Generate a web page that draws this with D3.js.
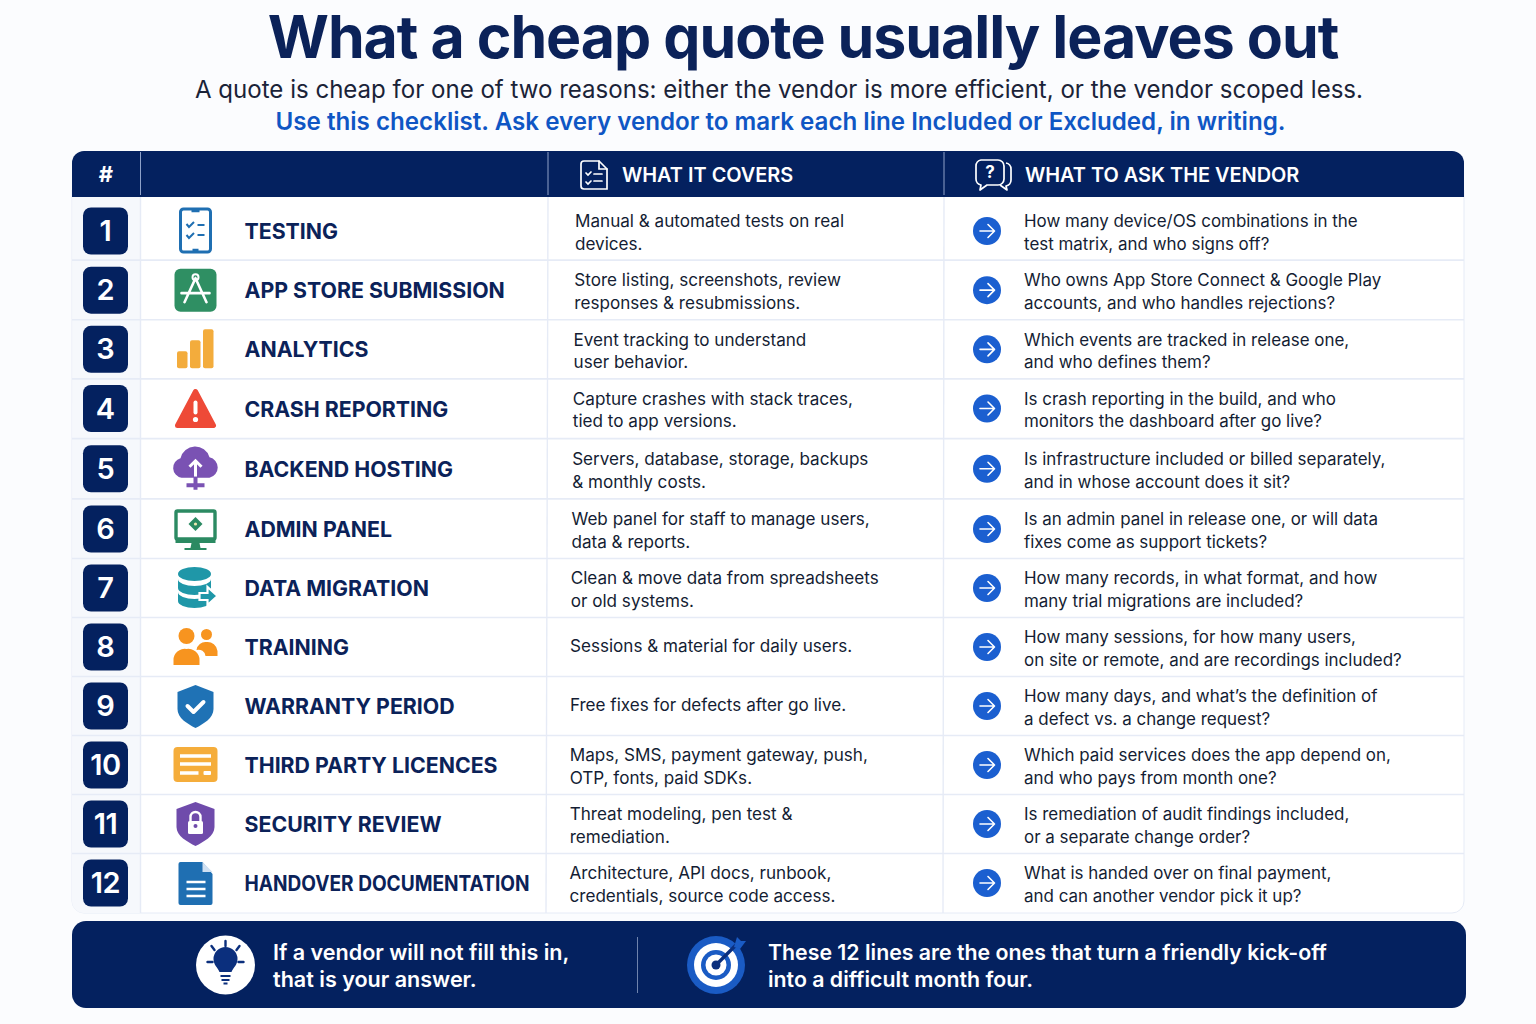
<!DOCTYPE html>
<html>
<head>
<meta charset="utf-8">
<title>What a cheap quote usually leaves out</title>
<script src="https://cdn.jsdelivr.net/npm/d3@7"></script>
<style>
  body { margin: 0; background: #fbfcfe; }
  svg { display: block; }
  text { font-family: Inter, "Noto Sans", sans-serif; }
</style>
</head>
<body>
<div id="chart"></div>
<script>
const rowNumbers = [1, 2, 3, 4, 5, 6, 7, 8, 9, 10, 11, 12];
const rowLabels = ["TESTING", "APP STORE SUBMISSION", "ANALYTICS", "CRASH REPORTING", "BACKEND HOSTING", "ADMIN PANEL",
    "DATA MIGRATION", "TRAINING", "WARRANTY PERIOD", "THIRD PARTY LICENCES", "SECURITY REVIEW", "HANDOVER DOCUMENTATION"];
const rowIcons = ["phone", "store", "bars", "warning", "cloud", "monitor", "database", "people", "shieldCheck", "card", "shieldLock", "doc"];
const coversText = [
    ["Manual & automated tests on real", "devices."],
    ["Store listing, screenshots, review", "responses & resubmissions."],
    ["Event tracking to understand", "user behavior."],
    ["Capture crashes with stack traces,", "tied to app versions."],
    ["Servers, database, storage, backups", "& monthly costs."],
    ["Web panel for staff to manage users,", "data & reports."],
    ["Clean & move data from spreadsheets", "or old systems."],
    ["Sessions & material for daily users."],
    ["Free fixes for defects after go live."],
    ["Maps, SMS, payment gateway, push,", "OTP, fonts, paid SDKs."],
    ["Threat modeling, pen test &", "remediation."],
    ["Architecture, API docs, runbook,", "credentials, source code access."]
];
const askText = [
    ["How many device/OS combinations in the", "test matrix, and who signs off?"],
    ["Who owns App Store Connect & Google Play", "accounts, and who handles rejections?"],
    ["Which events are tracked in release one,", "and who defines them?"],
    ["Is crash reporting in the build, and who", "monitors the dashboard after go live?"],
    ["Is infrastructure included or billed separately,", "and in whose account does it sit?"],
    ["Is an admin panel in release one, or will data", "fixes come as support tickets?"],
    ["How many records, in what format, and how", "many trial migrations are included?"],
    ["How many sessions, for how many users,", "on site or remote, and are recordings included?"],
    ["How many days, and what\u2019s the definition of", "a defect vs. a change request?"],
    ["Which paid services does the app depend on,", "and who pays from month one?"],
    ["Is remediation of audit findings included,", "or a separate change order?"],
    ["What is handed over on final payment,", "and can another vendor pick it up?"]
];
const headerLabels = ["WHAT IT COVERS", "WHAT TO ASK THE VENDOR"];
const titleText = "What a cheap quote usually leaves out";
const subtitleText = "A quote is cheap for one of two reasons: either the vendor is more efficient, or the vendor scoped less.";
const calloutText = "Use this checklist. Ask every vendor to mark each line Included or Excluded, in writing.";
const footerLeft = ["If a vendor will not fill this in,", "that is your answer."];
const footerRight = ["These 12 lines are the ones that turn a friendly kick-off", "into a difficult month four."];

const navy = "#04215f", ink = "#0b2259", body = "#141d33", rule = "#e6ebf6";
const blue = "#1b5fd0";

const svg = d3.select("#chart").append("svg").attr("width", 1536).attr("height", 1024);
svg.append("rect").attr("width", 1536).attr("height", 1024).attr("fill", "#fbfcfe");

// rows are not quite even in the reference and drift left going down, hence the breakpoints
const rowY = d3.scaleLinear().domain([1, 4, 6, 8, 12]).range([231, 408.5, 529, 647, 883]);
const coversX = d3.scaleLinear().domain([1, 8, 12]).range([575, 570, 569.5]);
const askX = d3.scaleLinear().domain([1, 12]).range([1024, 1024]);
const lineStep = 22.5;

// ---- titles
svg.append("text").attr("x", 803).attr("y", 58).attr("text-anchor", "middle")
    .attr("font-size", 59).attr("font-weight", 700).attr("fill", ink).style("letter-spacing", "-1px").text(titleText);
svg.append("text").attr("x", 779).attr("y", 98).attr("text-anchor", "middle")
    .attr("font-size", 24.06).attr("font-weight", 400).attr("fill", "#1a2338").text(subtitleText);
svg.append("text").attr("x", 780.5).attr("y", 130).attr("text-anchor", "middle")
    .attr("font-size", 24.17).attr("font-weight", 600).attr("fill", "#0f56c4").text(calloutText);

// ---- table body
svg.append("path")
    .attr("d", "M72,190H1464V901a12,12 0 0 1 -12,12H84a12,12 0 0 1 -12,-12Z")
    .attr("fill", "#ffffff").attr("stroke", rule).attr("stroke-width", 1);
svg.append("path")
    .attr("d", "M72.5,190H140.5V913H84a12,12 0 0 1 -12,-12Z").attr("fill", "#f6f8fc");

const rowSep = rowNumbers.slice(0, -1).map(n => (rowY(n) + rowY(n + 1)) / 2 + (n === 1 ? -0.5 : 0));
svg.selectAll(".row-rule").data(rowSep).enter().append("line")
    .attr("class", "row-rule")
    .attr("x1", 72).attr("x2", 1464).attr("y1", d => d).attr("y2", d => d)
    .attr("stroke", rule).attr("stroke-width", 1.6);

[[140.5, 140.5], [548, 546], [944, 943]].forEach(([top, bottom]) => {
    svg.append("line").attr("x1", top).attr("x2", bottom).attr("y1", 197).attr("y2", 913)
        .attr("stroke", rule).attr("stroke-width", 1.4);
});

// ---- header band
svg.append("path")
    .attr("d", "M84,151H1452a12,12 0 0 1 12,12V197H72V163a12,12 0 0 1 12,-12Z").attr("fill", navy);
[140.5, 548, 944].forEach(x => {
    svg.append("line").attr("x1", x).attr("x2", x).attr("y1", 152).attr("y2", 195)
        .attr("stroke", "#8fa2c9").attr("stroke-width", 1);
});
svg.append("text").attr("x", 106).attr("y", 182).attr("text-anchor", "middle")
    .attr("font-size", 22).attr("font-weight", 700).attr("fill", "#fff").text("#");
svg.selectAll(".head-label").data(headerLabels).enter().append("text")
    .attr("class", "head-label")
    .attr("x", (d, i) => i === 0 ? 622 : 1025).attr("y", 181.5)
    .attr("font-size", 19.9).attr("font-weight", 600).attr("fill", "#fff").text(d => d);

const headDoc = svg.append("g").attr("transform", "translate(594,175)")
    .attr("fill", "none").attr("stroke", "#fff").attr("stroke-width", 1.7).attr("stroke-linecap", "round");
headDoc.append("path").attr("d", "M-10,-14H5L13,-6V14H-10a3,3 0 0 1 -3,-3V-11a3,3 0 0 1 3,-3Z");
headDoc.append("path").attr("d", "M5,-14V-6H13");
headDoc.append("path").attr("d", "M-8,-2l2,2l3,-3M0,-1H8M-8,7l2,2l3,-3M0,6H8");

const headChat = svg.append("g").attr("transform", "translate(993,175)")
    .attr("fill", "none").attr("stroke", "#fff").attr("stroke-width", 1.7).attr("stroke-linejoin", "round");
headChat.append("path").attr("d", "M-12,-15H5a6,6 0 0 1 6,6V4a6,6 0 0 1 -6,6H-6l-7,5l1,-5a6,6 0 0 1 -5,-6V-9a6,6 0 0 1 5,-6Z");
headChat.append("path").attr("d", "M13,-12a6,6 0 0 1 5,6V5a6,6 0 0 1 -5,6l1,4l-7,-5");
headChat.append("text").attr("x", -3).attr("y", 3).attr("text-anchor", "middle").attr("font-size", 17)
    .attr("font-weight", 700).attr("fill", "#fff").attr("stroke", "none").text("?");

// ---- number badges
const badges = svg.selectAll(".badge").data(rowNumbers).enter().append("g")
    .attr("class", "badge")
    .attr("transform", d => `translate(105.5,${rowY(d)})`);
badges.append("rect").attr("x", -22.5).attr("y", -23.5).attr("width", 45).attr("height", 47).attr("rx", 8).attr("fill", navy);
badges.append("text").attr("y", 10).attr("text-anchor", "middle").attr("font-size", 29).attr("font-weight", 600)
    .attr("fill", "#fff").style("letter-spacing", d => d > 9 ? "-0.5px" : "0").text(d => d);

// ---- row labels, the long last one is squeezed into its column
svg.selectAll(".row-label").data(rowLabels).enter().append("text")
    .attr("class", "row-label")
    .attr("x", 244.5).attr("y", (d, i) => rowY(i + 1) + 8)
    .attr("font-size", 21.3).attr("font-weight", 700).attr("fill", ink).text(d => d)
    .each(function () {
        if (this.getComputedTextLength() > 285) d3.select(this).attr("textLength", 285).attr("lengthAdjust", "spacingAndGlyphs");
    });

// ---- two text columns
function addColumn(cls, lines, xOf, size) {
    const cell = svg.selectAll("." + cls).data(lines).enter().append("text")
        .attr("class", cls).attr("font-size", size).attr("fill", body);
    cell.selectAll("tspan").data((d, i) => d.map((t, j) => ({t, j, n: d.length, row: i + 1}))).enter().append("tspan")
        .attr("x", d => xOf(d.row))
        .attr("y", d => rowY(d.row) + (d.n === 1 ? 5 : 7.5) + (d.j - (d.n - 1) / 2) * lineStep)
        .text(d => d.t);
}
addColumn("cover", coversText, coversX, 17.1);
addColumn("ask", askText, askX, 16.95);

// ---- arrow bullets
const arrows = svg.selectAll(".arrow").data(rowNumbers).enter().append("g")
    .attr("class", "arrow").attr("transform", d => `translate(987,${rowY(d)})`);
arrows.append("circle").attr("r", 14).attr("fill", blue);
arrows.append("path").attr("d", "M-7,0H7M1,-6.5L7.5,0L1,6.5").attr("fill", "none").attr("stroke", "#fff")
    .attr("stroke-width", 1.6).attr("stroke-linecap", "round").attr("stroke-linejoin", "round");

// ---- row icons, each drawn around its own centre
const iconDraw = {
    phone(g) {
        const c = "#1f6fb2";
        g.append("rect").attr("x", -15).attr("y", -22).attr("width", 30).attr("height", 43).attr("rx", 3)
            .attr("fill", "#fff").attr("stroke", c).attr("stroke-width", 3);
        g.append("path").attr("d", "M-4,-20H4M-3,19H3").attr("stroke", c).attr("stroke-width", 2.6);
        g.append("path").attr("d", "M-9,-7l2.5,3l5,-5M2,-6H9M-9,4l2.5,3l5,-5M2,4H9").attr("fill", "none").attr("stroke", c).attr("stroke-width", 2);
    },
    store(g) {
        g.append("rect").attr("x", -21).attr("y", -21.5).attr("width", 42).attr("height", 43).attr("rx", 6).attr("fill", "#2f8f63");
        g.append("path").attr("d", "M0,-12L-11,12M0,-12L11,12M-14,3H14").attr("stroke", "#fff").attr("stroke-width", 2.6).attr("stroke-linecap", "round");
        g.append("circle").attr("cy", -13).attr("r", 3).attr("fill", "none").attr("stroke", "#fff").attr("stroke-width", 2);
    },
    bars(g) {
        const c = "#f3ac3c";
        [[-18.5, 2], [-5.5, -9], [7.5, -20]].forEach(([x, y]) => {
            g.append("rect").attr("x", x).attr("y", y).attr("width", 10.5).attr("height", 19 - y).attr("rx", 2).attr("fill", c);
        });
    },
    warning(g) {
        g.append("path").attr("d", "M0,-17L18,17H-18Z").attr("fill", "#ee4a37").attr("stroke", "#ee4a37").attr("stroke-width", 5).attr("stroke-linejoin", "round");
        g.append("rect").attr("x", -2).attr("y", -8).attr("width", 4).attr("height", 14).attr("rx", 2).attr("fill", "#fff");
        g.append("circle").attr("cy", 11).attr("r", 2.6).attr("fill", "#fff");
    },
    cloud(g) {
        const c = "#7a52b3";
        g.append("path").attr("d", "M-14,9a10,10 0 0 1 -1,-19.5a15,15 0 0 1 29,-1a10.5,10.5 0 0 1 0,20.5Z").attr("fill", c);
        g.append("path").attr("d", "M0,8V-8M-6,-2L0,-8L6,-2").attr("fill", "none").attr("stroke", "#fff").attr("stroke-width", 3);
        g.append("path").attr("d", "M0,8V21M-9,16.5H9").attr("stroke", c).attr("stroke-width", 4);
    },
    monitor(g) {
        const c = "#2b8a62";
        g.append("rect").attr("x", -19.5).attr("y", -18).attr("width", 39).attr("height", 28).attr("rx", 1.5).attr("fill", "#fff").attr("stroke", c).attr("stroke-width", 3.4);
        g.append("path").attr("d", "M-20,10H20V14H-20ZM-4,14H4L5,19H11V21H-11V19H-5Z").attr("fill", c);
        g.append("path").attr("d", "M0,-12L7,-5L0,2L-7,-5Z").attr("fill", c);
        g.append("circle").attr("cy", -5).attr("r", 1.6).attr("fill", "#f2e9b0");
    },
    database(g) {
        const c = "#1f97a8";
        g.append("ellipse").attr("cx", -1).attr("cy", -14).attr("rx", 16.5).attr("ry", 7).attr("fill", c);
        g.append("path").attr("d", "M-17.5,-9a16.5,7 0 0 0 33,0V0a16.5,7 0 0 1 -33,0Z").attr("fill", c);
        g.append("path").attr("d", "M-17.5,4a16.5,7 0 0 0 33,0V13a16.5,7 0 0 1 -33,0Z").attr("fill", c);
        g.append("path").attr("d", "M4,5H12V-1L22,8L12,17V12H4Z").attr("fill", c).attr("stroke", "#fff").attr("stroke-width", 2.2);
    },
    people(g) {
        const c = "#f7941f";
        g.append("circle").attr("cx", -9).attr("cy", -11).attr("r", 8).attr("fill", c);
        g.append("path").attr("d", "M-22,18V13a11,11 0 0 1 13,-11a11,11 0 0 1 13,11V18Z").attr("fill", c);
        g.append("circle").attr("cx", 11).attr("cy", -12.5).attr("r", 5.5).attr("fill", c);
        g.append("path").attr("d", "M1,3a9,9 0 0 1 10,-8a10,10 0 0 1 11,9V9H10A7,7 0 0 0 1,3Z").attr("fill", c);
    },
    shieldCheck(g) {
        g.append("path").attr("d", "M0,-21L18,-14V3C18,12 8,18 0,22C-8,18 -18,12 -18,3V-14Z").attr("fill", "#1f72b5");
        g.append("path").attr("d", "M-8,0L-2,6L8,-4").attr("fill", "none").attr("stroke", "#fff").attr("stroke-width", 4).attr("stroke-linecap", "round").attr("stroke-linejoin", "round");
    },
    card(g) {
        g.append("rect").attr("x", -22).attr("y", -18).attr("width", 44).attr("height", 35).attr("rx", 4).attr("fill", "#f5ad3b");
        g.append("path").attr("d", "M-15.5,-9H15.5M-15.5,-1H15.5M-15.5,8H3").attr("stroke", "#fff").attr("stroke-width", 3.6);
        g.append("rect").attr("x", 8).attr("y", 6).attr("width", 7.5).attr("height", 4).attr("rx", 1).attr("fill", "#fff");
    },
    shieldLock(g) {
        g.append("path").attr("d", "M0,-22L19,-15V3C19,12 8,18 0,22C-8,18 -19,12 -19,3V-15Z").attr("fill", "#6f4bab");
        g.append("path").attr("d", "M-5,-3V-7a5,5 0 0 1 10,0V-3").attr("fill", "none").attr("stroke", "#fff").attr("stroke-width", 2.4);
        g.append("rect").attr("x", -7.5).attr("y", -3).attr("width", 15).attr("height", 13).attr("rx", 1.5).attr("fill", "#fff");
        g.append("circle").attr("cy", 2).attr("r", 2).attr("fill", "#6f4bab");
    },
    doc(g) {
        g.append("path").attr("d", "M-17,-19a2,2 0 0 1 2,-2H7L17,-9V20a2,2 0 0 1 -2,2H-15a2,2 0 0 1 -2,-2Z").attr("fill", "#1f6fb2");
        g.append("path").attr("d", "M7,-21L17,-11H7Z").attr("fill", "#cfe0f2");
        g.append("path").attr("d", "M-9,-1H10M-9,6H10M-9,13H10").attr("stroke", "#fff").attr("stroke-width", 2.6);
    }
};
svg.selectAll(".icon").data(rowIcons).enter().append("g")
    .attr("class", "icon")
    .attr("transform", (d, i) => `translate(195.5,${rowY(i + 1)})`)
    .each(function (d) { iconDraw[d](d3.select(this)); });

// ---- footer band
svg.append("rect").attr("x", 72).attr("y", 921).attr("width", 1394).attr("height", 87).attr("rx", 14).attr("fill", navy);
svg.append("line").attr("x1", 637.5).attr("x2", 637.5).attr("y1", 937).attr("y2", 993).attr("stroke", "#6f83ad").attr("stroke-width", 1);

function addFooterText(lines, x, size) {
    svg.append("g").selectAll("text").data(lines).enter().append("text")
        .attr("x", x).attr("y", (d, i) => 960 + i * 27)
        .attr("font-size", size).attr("font-weight", 600).attr("fill", "#fff").text(d => d);
}
addFooterText(footerLeft, 273, 21.56);
addFooterText(footerRight, 768, 21.3);

const bulb = svg.append("g").attr("transform", "translate(225.5,965)");
bulb.append("circle").attr("r", 29.5).attr("fill", "#fff");
bulb.append("path").attr("d", "M-6,7C-8,2 -12,0 -12,-6a12,12 0 0 1 24,0C12,0 8,2 6,7Z").attr("fill", "#0b2f7d");
bulb.append("path").attr("d", "M-5,11H5M-4,15H4M-2,18.5H2").attr("stroke", "#0b2f7d").attr("stroke-width", 2.2);
bulb.append("path").attr("d", "M0,-24V-19M-14,-19L-11,-15M14,-19L11,-15M-18,-3H-13M18,-3H13")
    .attr("stroke", "#0b2f7d").attr("stroke-width", 2.4).attr("stroke-linecap", "round");

const target = svg.append("g").attr("transform", "translate(716,965)");
target.append("circle").attr("r", 29).attr("fill", "#1a5bc4");
target.append("circle").attr("r", 22).attr("fill", "#fff");
target.append("circle").attr("r", 15).attr("fill", "#1a5bc4");
target.append("circle").attr("r", 10.5).attr("fill", "#fff");
target.append("circle").attr("r", 4.5).attr("fill", "#0b2f7d");
target.append("path").attr("d", "M0,0L21,-21").attr("stroke", "#0b2f7d").attr("stroke-width", 3.4);
target.append("path").attr("d", "M18,-18L21,-28L25,-24L30,-24L24,-16Z").attr("fill", "#1a5bc4");
</script>
</body>
</html>
